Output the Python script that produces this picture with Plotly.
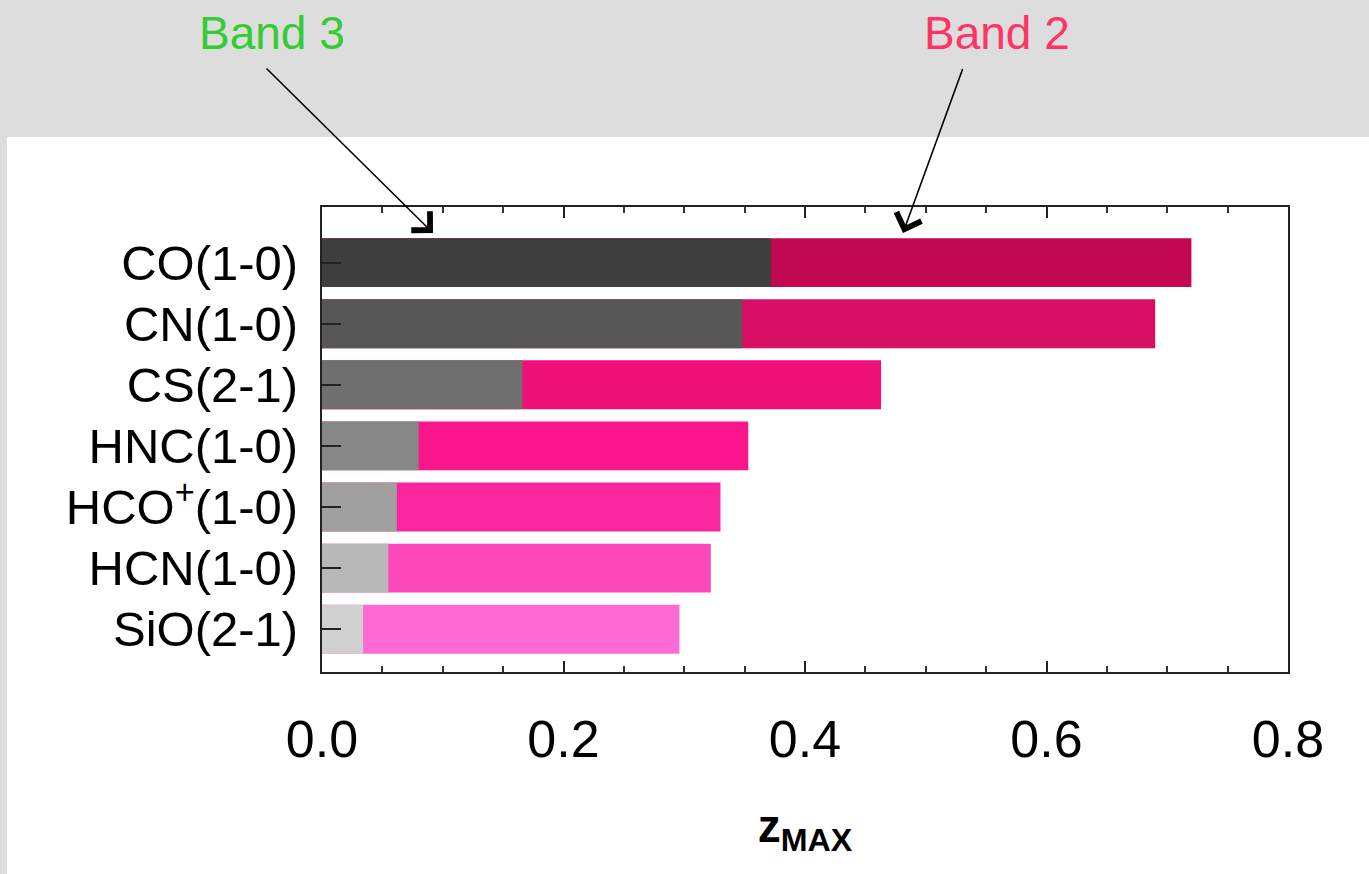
import plotly.graph_objects as go

molecules = ["CO(1-0)", "CN(1-0)", "CS(2-1)", "HNC(1-0)", "HCO<sup>+</sup>(1-0)", "HCN(1-0)", "SiO(2-1)"]
band2_zmax = [0.720, 0.690, 0.463, 0.353, 0.330, 0.322, 0.296]
band3_zmax = [0.372, 0.348, 0.166, 0.080, 0.062, 0.055, 0.034]
band2_colors = ["#c20851", "#d80e64", "#ee0f77", "#f9158a", "#fc25a0", "#fd48b9", "#ff6ad4"]
band3_colors = ["#3e3e3e", "#575757", "#6f6f6f", "#878787", "#a0a0a0", "#b8b8b8", "#d0d0d0"]
x_ticks = [0.0, 0.2, 0.4, 0.6, 0.8]

FONT = "Liberation Sans, Arial, sans-serif"

fig = go.Figure()
fig.add_trace(go.Bar(y=molecules, x=band2_zmax, orientation="h", width=0.8,
                     marker=dict(color=band2_colors, line=dict(width=0)), name="Band 2"))
fig.add_trace(go.Bar(y=molecules, x=band3_zmax, orientation="h", width=0.8,
                     marker=dict(color=band3_colors, line=dict(width=0)), name="Band 3"))

W, H = 1369, 874
L, R, T, B = 322, 81, 207, 202
pw, ph = W - L - R, H - T - B

def px(x):
    return (x - L) / pw

def py(y):
    return (H - B - y) / ph

arrow_common = dict(text=" ", font=dict(size=1), borderpad=0, xref="paper", yref="paper",
                    showarrow=True, arrowhead=4, arrowsize=3.2, arrowwidth=1.6, arrowcolor="black")

fig.update_layout(
    width=W, height=H, barmode="overlay", showlegend=False,
    margin=dict(l=L, r=R, t=T, b=B, pad=0),
    paper_bgcolor="#dddddd", plot_bgcolor="white",
    font=dict(family=FONT, color="black"),
    shapes=[dict(type="rect", xref="paper", yref="paper", layer="below",
                 x0=px(7), x1=px(1375), y0=py(137), y1=py(880),
                 fillcolor="white", line=dict(width=0))],
    xaxis=dict(range=[0, 0.8], tickvals=x_ticks, ticktext=["%.1f" % v for v in x_ticks],
               ticks="inside", ticklen=11, tickwidth=2, tickcolor="#222",
               minor=dict(dtick=0.05, ticks="inside", ticklen=6, tickwidth=2, tickcolor="#333"),
               showline=True, linecolor="#222", linewidth=2, mirror="ticks",
               showgrid=False, zeroline=False,
               tickfont=dict(size=52, family=FONT), ticklabelstandoff=21,
               title=dict(text="<b>z<sub>MAX</sub></b>", font=dict(size=46, family=FONT), standoff=42)),
    yaxis=dict(categoryorder="array", categoryarray=molecules, range=[6.70, -0.91],
               ticks="inside", ticklen=19, tickwidth=2, tickcolor="#222",
               showline=True, linecolor="#222", linewidth=2, mirror=True,
               showgrid=False, zeroline=False,
               tickfont=dict(size=49, family=FONT), ticklabelstandoff=12),
    annotations=[
        dict(x=px(433), y=py(233), ax=266 - 433, ay=68 - 233, **arrow_common),
        dict(x=px(903), y=py(233), ax=963 - 903, ay=68 - 233, **arrow_common),
        dict(text="Band 3", xref="paper", yref="paper", x=px(272), y=py(33), showarrow=False,
             xanchor="center", yanchor="middle", font=dict(size=46, color="#33cc33", family=FONT)),
        dict(text="Band 2", xref="paper", yref="paper", x=px(997), y=py(33), showarrow=False,
             xanchor="center", yanchor="middle", font=dict(size=46, color="#ff3366", family=FONT)),
    ],
)

fig.write_html("out.html")
